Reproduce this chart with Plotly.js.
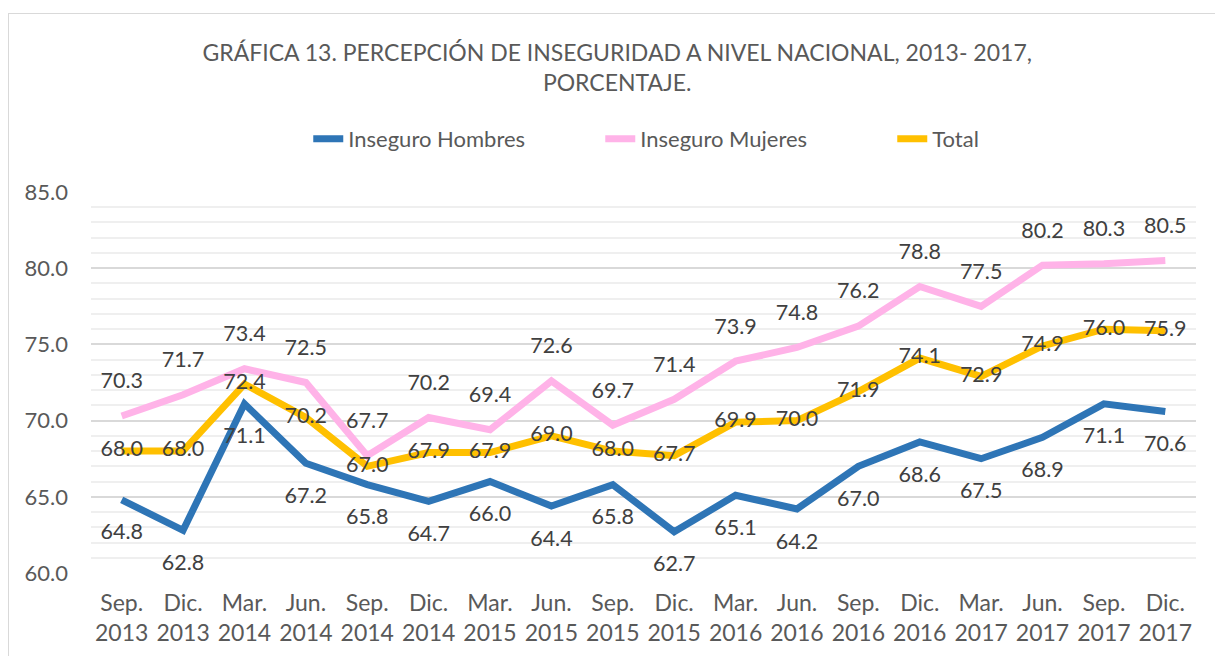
<!DOCTYPE html>
<html>
<head>
<meta charset="utf-8">
<script src="https://cdn.plot.ly/plotly-3.0.1.min.js"></script>
<style>
  html, body { margin: 0; padding: 0; background: #fff; }
  #wrap { position: relative; width: 1215px; height: 656px; overflow: hidden; }
  #frame { position: absolute; left: 8px; top: 13px; width: 1300px; height: 700px;
           border-left: 1.5px solid #d9d9d9; border-top: 1.5px solid #d9d9d9; }
  #chart { position: absolute; left: 0; top: 0; width: 1215px; height: 656px; }
</style>
</head>
<body>
<div id="wrap">
  <div id="frame"></div>
  <div id="chart"></div>
</div>
<script>
const categories = ["Sep.<br>2013","Dic.<br>2013","Mar.<br>2014","Jun.<br>2014","Sep.<br>2014","Dic.<br>2014",
  "Mar.<br>2015","Jun.<br>2015","Sep.<br>2015","Dic.<br>2015","Mar.<br>2016","Jun.<br>2016",
  "Sep.<br>2016","Dic.<br>2016","Mar.<br>2017","Jun.<br>2017","Sep.<br>2017","Dic.<br>2017"];
const hombres = [64.8, 62.8, 71.1, 67.2, 65.8, 64.7, 66.0, 64.4, 65.8, 62.7, 65.1, 64.2, 67.0, 68.6, 67.5, 68.9, 71.1, 70.6];
const mujeres = [70.3, 71.7, 73.4, 72.5, 67.7, 70.2, 69.4, 72.6, 69.7, 71.4, 73.9, 74.8, 76.2, 78.8, 77.5, 80.2, 80.3, 80.5];
const total   = [68.0, 68.0, 72.4, 70.2, 67.0, 67.9, 67.9, 69.0, 68.0, 67.7, 69.9, 70.0, 71.9, 74.1, 72.9, 74.9, 76.0, 75.9];

const FONT = "Lato, 'Open Sans', sans-serif";
const labelFont = {family: FONT, size: 21.5, color: "#404040"};

function lineTrace(name, y, color) {
  return {
    type: "scatter", mode: "lines", name: name,
    x: categories, y: y,
    line: {color: color, width: 7},
    hoverinfo: "x+y"
  };
}
function labelTrace(name, y, pos, msize) {
  return {
    type: "scatter", mode: "markers+text", name: name + " (etiquetas)",
    x: categories, y: y,
    text: y.map(v => v.toFixed(1)),
    textposition: pos,
    textfont: labelFont,
    marker: {size: msize, opacity: 0},
    showlegend: false, cliponaxis: false, hoverinfo: "skip"
  };
}

const data = [
  lineTrace("Inseguro Hombres", hombres, "#2E75B6"),
  lineTrace("Inseguro Mujeres", mujeres, "#FFB3E8"),
  lineTrace("Total", total, "#FFC000"),
  labelTrace("Inseguro Hombres", hombres, "bottom center", 36),
  labelTrace("Inseguro Mujeres", mujeres, "top center", 34),
  labelTrace("Total", total, "middle center", 2)
];

const layout = {
  width: 1215, height: 656,
  paper_bgcolor: "rgba(0,0,0,0)",
  plot_bgcolor: "rgba(0,0,0,0)",
  margin: {l: 91, r: 19, t: 192, b: 83},
  font: {family: FONT, color: "#595959"},
  title: {
    text: "GRÁFICA 13. PERCEPCIÓN DE INSEGURIDAD A NIVEL NACIONAL, 2013- 2017,<br>PORCENTAJE.",
    font: {family: FONT, size: 23, color: "#595959"},
    xref: "container", x: 0.508, xanchor: "center",
    yref: "container", y: 0.907, yanchor: "middle"
  },
  showlegend: true,
  legend: {
    orientation: "h",
    x: 0.593, xanchor: "center",
    y: 1.139, yanchor: "middle",
    font: {family: FONT, size: 22, color: "#595959"},
    entrywidth: 247,
    entrywidthmode: "pixels",
    traceorder: "normal"
  },
  xaxis: {
    type: "category",
    range: [-0.5, 17.5],
    showgrid: false,
    zeroline: false,
    showline: false,
    ticks: "",
    ticklabelstandoff: 14,
    tickfont: {family: FONT, size: 23, color: "#595959"},
    fixedrange: true
  },
  yaxis: {
    range: [60, 85],
    dtick: 5,
    tick0: 60,
    tickformat: ".1f",
    showgrid: true,
    gridcolor: "#d9d9d9",
    gridwidth: 1.5,
    zeroline: false,
    showline: false,
    ticks: "",
    ticklabelstandoff: 22,
    tickfont: {family: FONT, size: 22, color: "#595959"},
    minor: {dtick: 1, showgrid: true, gridcolor: "#efefef", gridwidth: 1.5},
    fixedrange: true
  }
};

Plotly.newPlot("chart", data, layout, {displayModeBar: false, responsive: false});
</script>
</body>
</html>
